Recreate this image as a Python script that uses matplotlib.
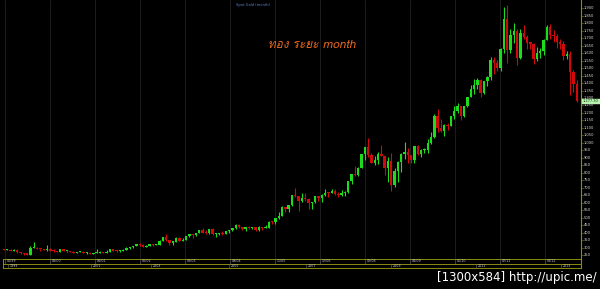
import matplotlib
matplotlib.use("Agg")
import matplotlib.pyplot as plt
import numpy as np
from matplotlib import font_manager
from matplotlib.ft2font import FT2Font

# ---------------- data (monthly spot gold, Jan 1999 .. Jun 2013) ----------------
opens = [
    288, 287, 287, 279, 286, 268, 261, 255, 254, 299, 299, 292,
    288, 283, 293, 277, 275, 272, 289, 277, 277, 273, 264, 270,
    273, 265, 267, 258, 264, 267, 271, 266, 273, 293, 279, 275,
    277, 282, 297, 302, 308, 326, 318, 304, 312, 324, 317, 319,
    347, 368, 348, 334, 339, 364, 346, 354, 375, 388, 386, 398,
    416, 400, 396, 424, 388, 393, 396, 391, 408, 416, 428, 453,
    438, 422, 435, 428, 436, 417, 436, 429, 433, 473, 470, 496,
    513, 569, 557, 583, 654, 643, 614, 633, 624, 599, 604, 646,
    632, 651, 665, 662, 679, 659, 650, 666, 673, 743, 789, 783,
    834, 923, 971, 917, 864, 886, 926, 914, 829, 880, 718, 815,
    870, 928, 942, 916, 883, 979, 927, 954, 955, 996, 1040, 1180,
    1097, 1081, 1117, 1113, 1180, 1213, 1244, 1181, 1248, 1307, 1357, 1386,
    1421, 1333, 1411, 1439, 1556, 1536, 1500, 1628, 1829, 1620, 1722, 1746,
    1566, 1737, 1711, 1669, 1664, 1560, 1604, 1615, 1687, 1773, 1719, 1713,
    1675, 1664, 1578, 1596, 1472, 1393,
]
highs = [
    293, 291, 290, 290, 290, 270, 263, 259, 312, 338, 301, 293,
    293, 320, 296, 289, 277, 293, 290, 279, 279, 275, 270, 276,
    275, 268, 270, 265, 293, 276, 272, 281, 294, 294, 285, 283,
    288, 303, 305, 310, 327, 329, 322, 315, 326, 324, 323, 349,
    372, 389, 352, 342, 373, 369, 363, 377, 392, 391, 400, 418,
    430, 419, 426, 429, 396, 398, 409, 413, 418, 430, 456, 457,
    440, 437, 446, 438, 437, 443, 438, 448, 476, 476, 498, 541,
    575, 574, 585, 654, 700, 645, 665, 663, 633, 608, 648, 648,
    660, 690, 673, 692, 690, 672, 684, 677, 745, 795, 845, 838,
    928, 975, 1033, 935, 913, 936, 989, 915, 904, 934, 829, 882,
    934, 1006, 964, 917, 981, 989, 960, 966, 1025, 1070, 1195, 1227,
    1162, 1128, 1135, 1183, 1249, 1266, 1244, 1249, 1310, 1388, 1424, 1431,
    1424, 1415, 1447, 1576, 1577, 1553, 1632, 1911, 1921, 1763, 1803, 1764,
    1763, 1791, 1719, 1677, 1670, 1641, 1633, 1695, 1788, 1796, 1755, 1726,
    1694, 1682, 1617, 1611, 1488, 1417,
]
lows = [
    283, 282, 278, 278, 267, 257, 252, 252, 253, 295, 288, 277,
    281, 280, 276, 273, 271, 272, 276, 270, 270, 263, 263, 268,
    262, 256, 256, 255, 264, 263, 262, 265, 270, 276, 272, 271,
    277, 281, 290, 299, 308, 313, 302, 301, 312, 309, 315, 316,
    345, 346, 320, 318, 337, 342, 341, 353, 369, 366, 378, 396,
    399, 393, 392, 385, 371, 386, 385, 389, 397, 411, 425, 429,
    419, 411, 424, 423, 414, 414, 418, 428, 433, 461, 456, 490,
    512, 541, 536, 581, 639, 543, 608, 612, 560, 561, 601, 612,
    603, 646, 636, 662, 650, 640, 647, 642, 667, 722, 776, 780,
    832, 884, 907, 863, 852, 856, 910, 786, 740, 681, 705, 741,
    803, 890, 865, 865, 867, 916, 908, 933, 934, 990, 1032, 1075,
    1072, 1044, 1088, 1113, 1163, 1202, 1156, 1176, 1241, 1305, 1330, 1361,
    1309, 1327, 1380, 1420, 1462, 1478, 1478, 1603, 1535, 1601, 1669, 1523,
    1563, 1694, 1627, 1625, 1527, 1547, 1565, 1585, 1685, 1692, 1672, 1635,
    1627, 1555, 1562, 1321, 1338, 1270,
]
closes = [
    287, 287, 279, 286, 268, 261, 255, 254, 299, 299, 292, 288,
    283, 293, 277, 275, 272, 289, 277, 277, 273, 264, 270, 273,
    265, 267, 258, 264, 267, 271, 266, 273, 293, 279, 275, 277,
    282, 297, 302, 308, 326, 318, 304, 312, 324, 317, 319, 347,
    368, 348, 334, 339, 364, 346, 354, 375, 388, 386, 398, 416,
    400, 396, 424, 388, 393, 396, 391, 408, 416, 428, 453, 438,
    422, 435, 428, 436, 417, 436, 429, 433, 473, 470, 496, 513,
    569, 557, 583, 654, 643, 614, 633, 624, 599, 604, 646, 632,
    651, 665, 662, 679, 659, 650, 666, 673, 743, 789, 783, 834,
    923, 971, 917, 864, 886, 926, 914, 829, 880, 718, 815, 870,
    928, 942, 916, 883, 979, 927, 954, 955, 996, 1040, 1180, 1097,
    1081, 1117, 1113, 1180, 1213, 1244, 1181, 1248, 1307, 1357, 1386, 1421,
    1333, 1411, 1439, 1556, 1536, 1500, 1628, 1829, 1620, 1722, 1746, 1566,
    1737, 1711, 1669, 1664, 1560, 1604, 1615, 1687, 1773, 1719, 1713, 1675,
    1664, 1578, 1596, 1472, 1393, 1277,
]

price_ticks = list(range(250, 1901, 50))
last_price_label = "1,277.30"

date_tick_idx = [0.3, 13.9, 27.5, 41.1, 54.7, 68.3, 81.9, 95.5, 109.1, 122.7, 136.3, 149.9, 163.5]
date_tick_labels = ["01/99", "03/00", "04/01", "06/02", "08/03", "09/04", "11/05",
                    "12/06", "02/08", "04/09", "05/10", "07/11", "08/12"]
year_tick_idx = [1.3, 26.4, 44.5, 68.0, 91.3, 117.0, 142.7, 168.4]
year_tick_labels = ["1999", "2001", "2003", "2005", "2007", "2009", "2011", "2013"]

title_small = "Spot Gold (month)"
title_main = "ทอง ระยะ month"
footer = "[1300x584] http://upic.me/"

# ---------------- font with Thai glyphs, if any ----------------
thai_family = None
seen = set()
for f in font_manager.fontManager.ttflist:
    if f.fname in seen:
        continue
    seen.add(f.fname)
    if "CJK" in f.name:
        continue
    try:
        cm = FT2Font(f.fname).get_charmap()
        if 0x0E17 in cm and 0x0E30 in cm:
            thai_family = f.name
            break
    except Exception:
        pass
thai_fams = ([thai_family] if thai_family else []) + ["DejaVu Sans"]

# ---------------- figure ----------------
W, H = 600, 289
fig = plt.figure(figsize=(W / 100, H / 100), dpi=100, facecolor="black")
ax = fig.add_axes([0, (H - 259) / H, 581 / W, 259 / H], facecolor="black")

n = len(closes)
x = np.arange(n)
o = np.array(opens, float)
c = np.array(closes, float)
hi = np.array(highs, float)
lo = np.array(lows, float)
up = c >= o
green = "#1cdc1c"
red = "#d00a0a"
cols = np.where(up, green, red)

ax.set_xlim(-1.2, 174.3)
ax.set_ylim(224, 1955)

# vertical grid lines
for t in date_tick_idx:
    ax.axvline(t, color="#222222", lw=0.6, zorder=0)

ax.vlines(x, lo, hi, colors=cols, lw=0.8, zorder=2)
body_bottom = np.minimum(o, c)
body_h = np.maximum(np.abs(c - o), 7)
ax.bar(x, body_h, bottom=body_bottom, width=0.72, color=cols, linewidth=0, zorder=3)

for s in ax.spines.values():
    s.set_visible(False)
ax.set_xticks([])
ax.set_yticks([])

olive = "#8c8c10"
# right price axis line
fig.add_artist(plt.Line2D([581 / W, 581 / W], [(H - 268) / H, 1], color=olive, lw=0.8,
                          transform=fig.transFigure))

# price labels
for p in price_ticks:
    yf = ax.transData.transform((0, p))[1] / fig.dpi / (H / 100)
    fig.text(584 / W, yf, f"{p:,}", color="#d8d8d8", fontsize=2.6, va="center", ha="left")
    fig.add_artist(plt.Line2D([581 / W, 583 / W], [yf, yf], color=olive, lw=0.4,
                              transform=fig.transFigure))

# current price box
yl = ax.transData.transform((0, closes[-1]))[1] / fig.dpi / (H / 100)
fig.text(583 / W, yl, last_price_label, color="#104010", fontsize=2.6, va="center", ha="left",
         bbox=dict(boxstyle="square,pad=0.25", fc="#b8f0b0", ec="#b8f0b0", lw=0.3))

# date axis rows
def hline(yp, x0=3, x1=581):
    fig.add_artist(plt.Line2D([x0 / W, x1 / W], [(H - yp) / H] * 2, color=olive, lw=0.7,
                              transform=fig.transFigure))

hline(259)
hline(263.5)
hline(268)
fig.add_artist(plt.Line2D([3 / W, 3 / W], [(H - 268) / H, (H - 259) / H], color=olive, lw=0.7,
                          transform=fig.transFigure))

def xfig(idx):
    return ax.transData.transform((idx, 0))[0] / fig.dpi / (W / 100)

for t, lab in zip(date_tick_idx, date_tick_labels):
    xf = xfig(t)
    fig.add_artist(plt.Line2D([xf, xf], [(H - 263.5) / H, (H - 259) / H], color="#707070",
                              lw=0.4, transform=fig.transFigure))
    fig.text(xf + 1.5 / W, (H - 261.3) / H, lab, color="#c8c8c8", fontsize=2.3,
             va="center", ha="left")
for t, lab in zip(year_tick_idx, year_tick_labels):
    xf = xfig(t)
    fig.add_artist(plt.Line2D([xf, xf], [(H - 268) / H, (H - 263.5) / H], color="#707070",
                              lw=0.4, transform=fig.transFigure))
    fig.text(xf + 1.5 / W, (H - 265.8) / H, lab, color="#c8c8c8", fontsize=2.3,
             va="center", ha="left")

# titles
fig.text(253 / W, (H - 5) / H, title_small, color="#5a82c8", fontsize=2.6, ha="center",
         va="center")
fig.text(312 / W, (H - 45) / H, title_main, color="#e8661c", fontsize=8.5, ha="center",
         va="center", style="italic", family=thai_fams)

fig.text(597 / W, (H - 277) / H, footer, color="white", fontsize=8.5, ha="right",
         va="center")

fig.savefig("out.png", dpi=100, facecolor="black")
